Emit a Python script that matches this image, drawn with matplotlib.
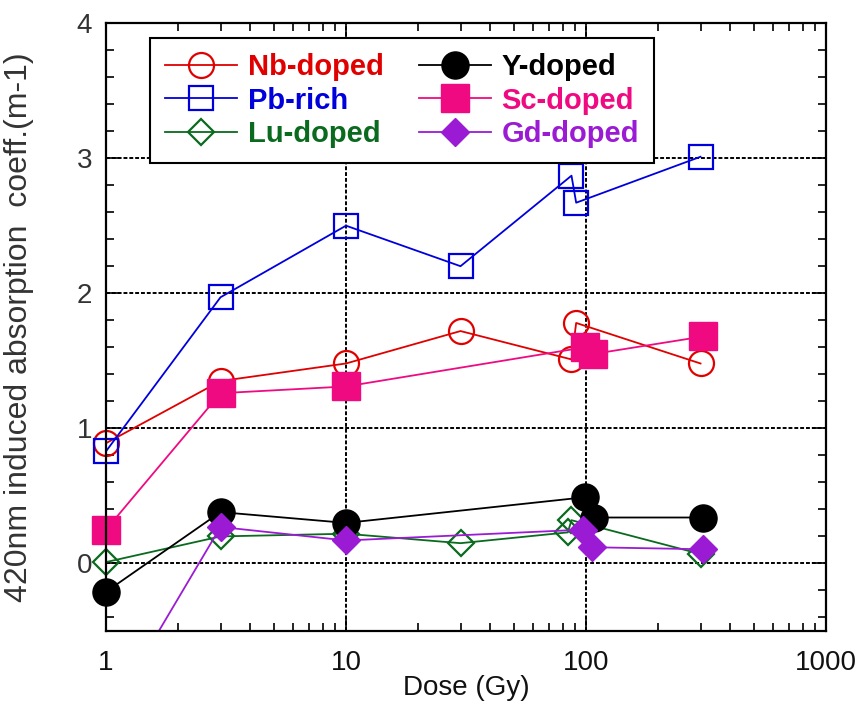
import matplotlib
matplotlib.use("Agg")
import matplotlib.pyplot as plt
from matplotlib.ticker import FixedLocator, LogLocator, MultipleLocator, NullFormatter
from matplotlib.lines import Line2D

plt.rcParams['font.family'] = ['Liberation Sans', 'DejaVu Sans']

# ---- data ----
dose_nb = [1, 3, 10, 30, 87, 91, 300]
nb_doped = [0.89, 1.35, 1.48, 1.72, 1.51, 1.78, 1.48]

dose_pb = [1, 3, 10, 30, 87, 91, 300]
pb_rich = [0.83, 1.97, 2.50, 2.20, 2.87, 2.67, 3.01]

dose_lu = [1, 3, 10, 30, 84, 87, 300]
lu_doped = [0.01, 0.20, 0.22, 0.15, 0.23, 0.32, 0.07]

dose_y = [1, 3, 10, 99, 108, 307]
y_doped = [-0.21, 0.38, 0.30, 0.49, 0.34, 0.34]

dose_sc = [1, 3, 10, 99, 107, 308]
sc_doped = [0.25, 1.26, 1.31, 1.60, 1.55, 1.68]

dose_gd = [1, 3, 10, 97, 106, 306]
gd_doped = [-1.16, 0.27, 0.17, 0.25, 0.12, 0.105]

x_ticks = [1, 10, 100, 1000]
x_ticklabels = ["1", "10", "100", "1000"]
y_ticks = [0, 1, 2, 3, 4]
y_ticklabels = ["0", "1", "2", "3", "4"]

series = [
    ("Nb-doped", dose_nb, nb_doped, '#e00000', 'o', False, 18),
    ("Pb-rich", dose_pb, pb_rich, '#0000dd', 's', False, 17.5),
    ("Lu-doped", dose_lu, lu_doped, '#0a6a1e', 'D', False, 13),
    ("Y-doped", dose_y, y_doped, '#000000', 'o', True, 19.5),
    ("Sc-doped", dose_sc, sc_doped, '#f00a82', 's', True, 20),
    ("Gd-doped", dose_gd, gd_doped, '#9b1bd4', 'D', True, 14),
]

YMIN, YMAX = -0.5, 4

fig = plt.figure(figsize=(8.61, 7.13), dpi=100)
ax = fig.add_axes([106/861, 1-631/713, 720/861, 608/713])

handles = []
for i, (name, xs, ys, col, mk, filled, ms) in enumerate(series):
    z = 2 + i * 0.1
    mkw = dict(marker=mk, ms=ms, mfc=col if filled else 'none', mec=col,
               mew=1.6 if not filled else 1.0)
    # connecting line (clipped to the axes)
    ax.plot(xs, ys, color=col, lw=1.3, zorder=z)
    # markers (not clipped, only points inside the y range)
    vx = [x for x, y in zip(xs, ys) if YMIN <= y <= YMAX]
    vy = [y for y in ys if YMIN <= y <= YMAX]
    ax.plot(vx, vy, ls='none', zorder=z + 0.05, clip_on=False, **mkw)
    handles.append(Line2D([], [], color=col, lw=1.3, label=name, **mkw))

ax.set_xscale('log')
ax.set_xlim(1, 1000)
ax.set_ylim(YMIN, YMAX)

ax.xaxis.set_major_locator(FixedLocator(x_ticks))
ax.set_xticklabels(x_ticklabels)
ax.xaxis.set_minor_locator(LogLocator(base=10, subs=range(2, 10)))
ax.xaxis.set_minor_formatter(NullFormatter())
ax.yaxis.set_major_locator(FixedLocator(y_ticks))
ax.set_yticklabels(y_ticklabels)
ax.yaxis.set_minor_locator(MultipleLocator(0.2))

ax.tick_params(which='both', direction='in', top=True, right=True, width=1.2)
ax.tick_params(which='major', length=10)
ax.tick_params(which='minor', length=6)
ax.tick_params(axis='x', labelsize=20, pad=14, labelcolor='#111111')
ax.tick_params(axis='y', labelsize=20, pad=10, labelcolor='#333333')

ax.grid(True, which='major', color='black', lw=1.4, linestyle=(0, (2, 1)))
ax.set_axisbelow(True)

for sp in ax.spines.values():
    sp.set_linewidth(1.6)

ax.set_xlabel("Dose (Gy)", fontsize=20, color='#111111')
ax.xaxis.set_label_coords(0.5, -0.072)
ax.set_ylabel("420nm induced absorption  coeff.(m-1)", fontsize=23, color='#333333')
ax.yaxis.set_label_coords(-0.10, 0.5)

leg = ax.legend(handles=handles, ncol=2, loc='upper left',
                bbox_to_anchor=(0.061, 0.975), borderaxespad=0,
                handlelength=2.5, handletextpad=0.35, labelspacing=0.2,
                columnspacing=1.2, borderpad=0.5,
                fancybox=False, framealpha=1, edgecolor='black',
                prop={'weight': 'bold', 'size': 21})
leg.get_frame().set_linewidth(1.5)
leg.set_zorder(10)
for txt, s in zip(leg.get_texts(), series):
    txt.set_color(s[3])

fig.savefig("out.png", dpi=100)
